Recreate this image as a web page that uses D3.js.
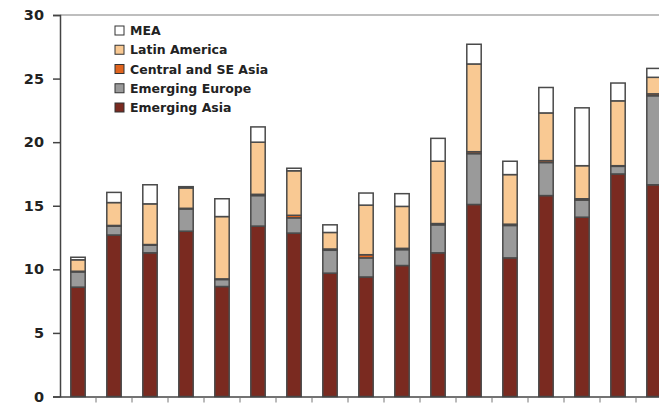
<!DOCTYPE html>
<html>
<head>
<meta charset="utf-8">
<script src="https://cdn.jsdelivr.net/npm/d3@7"></script>
<style>
  html, body { margin: 0; padding: 0; background: #fff; }
  svg { display: block; }
</style>
</head>
<body>
<svg id="chart" width="659" height="405"></svg>
<script>
// ---- data ----
const categories = ["1","2","3","4","5","6","7","8","9","10","11","12","13","14","15","16","17"];
const seriesNames = ["Emerging Asia", "Emerging Europe", "Central and SE Asia", "Latin America", "MEA"];
const emergingAsia   = [8.6, 12.7, 11.3, 13.0, 8.65, 13.4, 12.85, 9.7, 9.4, 10.3, 11.3, 15.1, 10.9, 15.8, 14.1, 17.5, 16.65];
const emergingEurope = [1.2, 0.7, 0.6, 1.75, 0.55, 2.4, 1.2, 1.8, 1.5, 1.25, 2.2, 4.0, 2.55, 2.6, 1.35, 0.6, 7.0];
const centralSEAsia  = [0.05, 0.05, 0.05, 0.05, 0.05, 0.1, 0.2, 0.1, 0.25, 0.1, 0.1, 0.15, 0.1, 0.15, 0.1, 0.05, 0.15];
const latinAmerica   = [0.9, 1.8, 3.2, 1.6, 4.9, 4.1, 3.5, 1.3, 3.9, 3.3, 4.9, 6.9, 3.9, 3.75, 2.6, 5.1, 1.3];
const mea            = [0.2, 0.8, 1.5, 0.1, 1.4, 1.2, 0.2, 0.6, 0.95, 1.0, 1.8, 1.55, 1.05, 2.0, 4.55, 1.4, 0.7];
const yTicks = [0, 5, 10, 15, 20, 25, 30];
const colors = ["#7a2a20", "#9a9a9a", "#e0641e", "#f9c993", "#ffffff"];

// ---- build table ----
const seriesValues = [emergingAsia, emergingEurope, centralSEAsia, latinAmerica, mea];
const table = categories.map((c, i) => {
  const row = { cat: c };
  seriesNames.forEach((s, j) => row[s] = seriesValues[j][i]);
  return row;
});

const svg = d3.select("#chart");
const mLeft = 60, mTop = 15, mBottom = 396.5;
const step = 36;

const x = d3.scaleBand()
  .domain(categories)
  .range([mLeft, mLeft + step * categories.length])
  .paddingInner(0.6)
  .paddingOuter(0.3);

const y = d3.scaleLinear().domain([0, 30]).range([mBottom, mTop]);

// top border line
svg.append("line")
  .attr("x1", mLeft).attr("x2", 659)
  .attr("y1", y(30)).attr("y2", y(30))
  .attr("stroke", "#a8a8a8").attr("stroke-width", 1.5);

// stacked bars
const stack = d3.stack().keys(seriesNames)(table);
svg.append("g").selectAll("g")
  .data(stack)
  .join("g")
  .attr("fill", (d, i) => colors[i])
  .selectAll("rect")
  .data(d => d)
  .join("rect")
  .attr("x", d => x(d.data.cat))
  .attr("width", x.bandwidth())
  .attr("y", d => y(d[1]))
  .attr("height", d => y(d[0]) - y(d[1]))
  .attr("stroke", "#4a4a4a")
  .attr("stroke-width", 1.5);

// y axis
const yAxis = svg.append("g")
  .attr("transform", `translate(${mLeft},0)`)
  .call(d3.axisLeft(y).tickValues(yTicks).tickSize(7).tickPadding(9).tickFormat(d3.format("d")));
yAxis.select(".domain").attr("stroke", "#444").attr("stroke-width", 1.5);
yAxis.selectAll(".tick line").attr("stroke", "#444").attr("stroke-width", 1.5);
yAxis.selectAll(".tick text")
  .attr("font-family", "DejaVu Sans, Verdana, sans-serif")
  .attr("font-weight", "bold")
  .attr("font-size", "14.5px")
  .attr("fill", "#222");

// x axis with ticks at band boundaries
const xAxis = svg.append("g")
  .attr("transform", `translate(0,${mBottom})`)
  .call(d3.axisBottom(x).tickSize(6).tickSizeOuter(0).tickFormat(""));
xAxis.select(".domain").attr("stroke", "#444").attr("stroke-width", 1.5);
xAxis.selectAll(".tick")
  .attr("transform", d => `translate(${x(d) + x.bandwidth() / 2 + x.step() / 2},0)`);
xAxis.selectAll(".tick line").attr("stroke", "#777").attr("stroke-width", 1);

// legend (reverse order: MEA on top)
const legendItems = seriesNames.map((s, i) => ({ name: s, color: colors[i] })).reverse();
const legend = svg.append("g").attr("transform", "translate(115,26)");
const lg = legend.selectAll("g")
  .data(legendItems)
  .join("g")
  .attr("transform", (d, i) => `translate(0,${i * 19.25})`);
lg.append("rect")
  .attr("x", 0).attr("y", 0)
  .attr("width", 9).attr("height", 9)
  .attr("fill", d => d.color)
  .attr("stroke", "#333").attr("stroke-width", 1);
lg.append("text")
  .attr("x", 15).attr("y", 4.5)
  .attr("dy", "0.36em")
  .attr("font-family", "DejaVu Sans, Verdana, sans-serif")
  .attr("font-weight", "bold")
  .attr("font-size", "12.5px")
  .attr("fill", "#222")
  .text(d => d.name);
</script>
</body>
</html>
